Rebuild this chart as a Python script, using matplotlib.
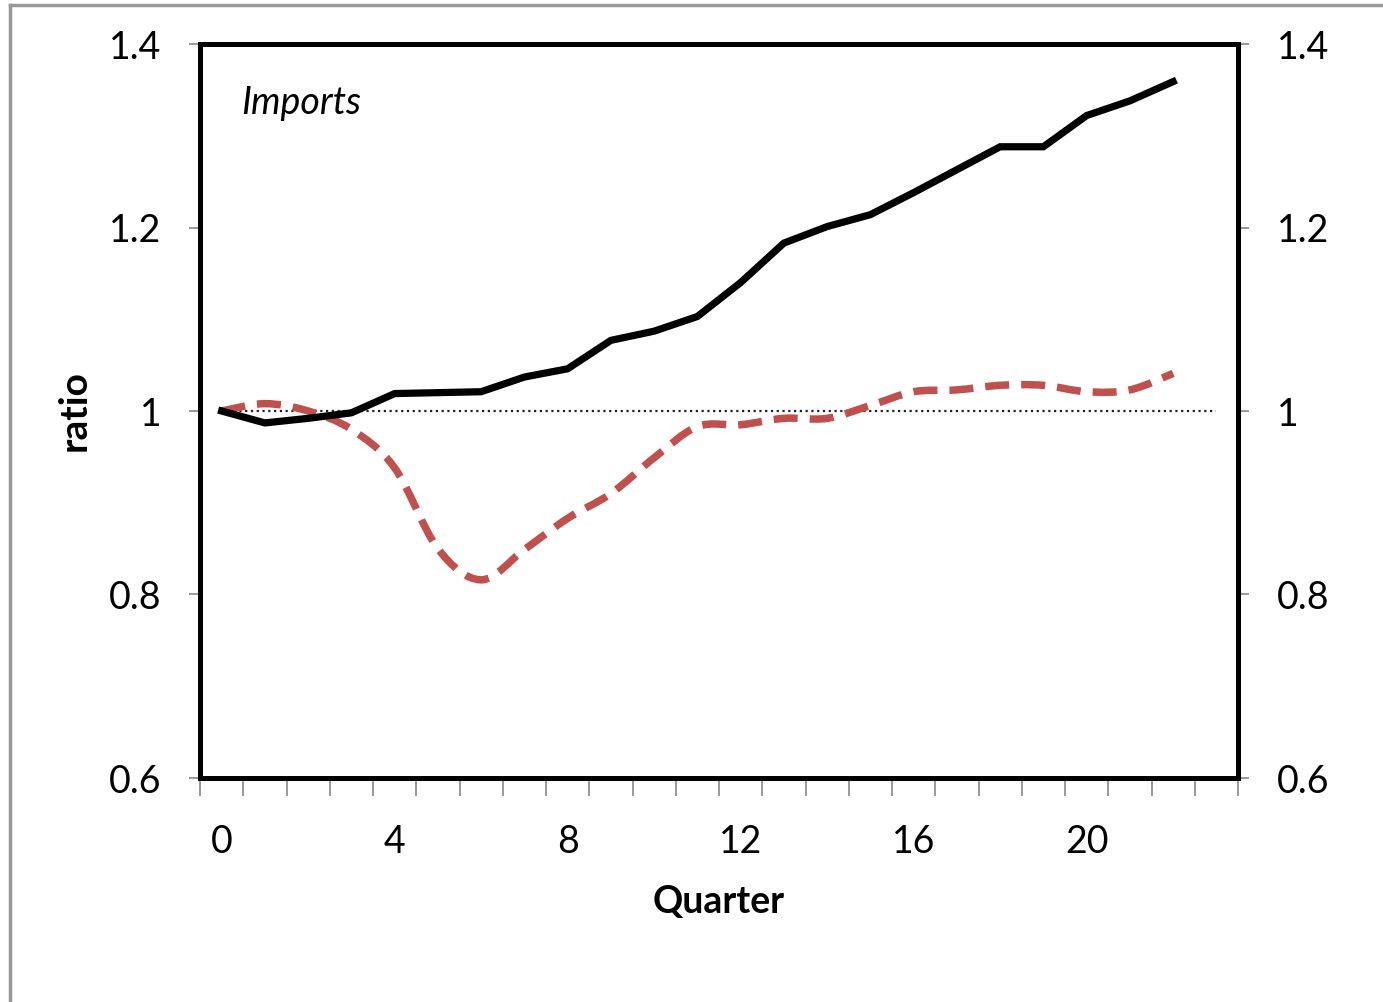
import numpy as np
import matplotlib.pyplot as plt
from matplotlib.path import Path
from matplotlib.patches import PathPatch
from matplotlib.lines import Line2D

# quarters since the shock
quarters = list(range(23))
# black solid series
imports_level = [1.000, 0.987, 0.992, 0.998, 1.019, 1.020, 1.021, 1.037, 1.046, 1.077,
                 1.087, 1.103, 1.140, 1.183, 1.201, 1.214, 1.238, 1.263, 1.288, 1.288,
                 1.322, 1.338, 1.359]
# red dashed series (smoothed in the original)
imports_ratio = [1.000, 1.008, 1.000, 0.980, 0.938, 0.850, 0.816, 0.849, 0.883, 0.910,
                 0.949, 0.983, 0.985, 0.992, 0.992, 1.006, 1.021, 1.023, 1.028, 1.028,
                 1.021, 1.023, 1.041]
# reference line at 1
ref_x = list(range(24))
ref_y = [1.0] * 24

x_labels = [0, 4, 8, 12, 16, 20]
y_ticks = [0.6, 0.8, 1.0, 1.2, 1.4]
y_labels = ["0.6", "0.8", "1", "1.2", "1.4"]

plt.rcParams["font.family"] = ["Lato", "DejaVu Sans"]

W, H = 1383, 1002
fig = plt.figure(figsize=(W / 100, H / 100), dpi=100)
ax = fig.add_axes([200 / W, 1 - 778 / H, (1238 - 200) / W, (778 - 44) / H])


def smooth_path(xs, ys):
    # Excel-like smoothed line: cubic Bezier through each point
    pts = np.column_stack([xs, ys])
    n = len(pts)
    verts = [pts[0]]
    codes = [Path.MOVETO]
    for i in range(n - 1):
        p0 = pts[max(i - 1, 0)]
        p1 = pts[i]
        p2 = pts[i + 1]
        p3 = pts[min(i + 2, n - 1)]
        c1 = p1 + (p2 - p0) / 6.0
        c2 = p2 - (p3 - p1) / 6.0
        verts += [c1, c2, p2]
        codes += [Path.CURVE4] * 3
    return Path(verts, codes)


ax.plot(ref_x, ref_y, color="#222222", lw=1.6, linestyle=(0, (1, 1.6)), zorder=2)
ax.plot(quarters, imports_level, color="black", lw=5.2, solid_joinstyle="miter", zorder=4)
ax.add_patch(PathPatch(smooth_path(quarters, imports_ratio), fill=False,
                       edgecolor="#C0504D", lw=5.4, linestyle=(0, (3.2, 1.6)), zorder=3))

ax.set_xlim(-0.5, 23.5)
ax.set_ylim(0.6, 1.4)

ax.set_xticks(x_labels)
ax.set_xticklabels([str(v) for v in x_labels])
ax.set_xticks(np.arange(-0.5, 24, 1.0), minor=True)
ax.tick_params(axis="x", which="major", length=0, pad=33, labelsize=27)
ax.tick_params(axis="x", which="minor", length=13, width=1.2, color="#888888", direction="out")

ax.set_yticks(y_ticks)
ax.set_yticklabels(y_labels)
ax.tick_params(axis="y", which="major", length=8, width=1.2, color="#888888",
               direction="out", left=True, right=True, labelleft=True, labelright=True,
               labelsize=27, pad=20)

for s in ax.spines.values():
    s.set_linewidth(3.6)
    s.set_color("black")

ax.set_xlabel("Quarter", fontsize=27, fontweight="bold", labelpad=18)
ax.set_ylabel("ratio", fontsize=28, fontweight="bold", labelpad=12)
ax.text(0.04, 0.92, "Imports", transform=ax.transAxes, fontsize=27, style="italic",
        ha="left", va="center")

# outer gray frame of the embedded chart
fig.add_artist(Line2D([10 / W, 10 / W], [0, 1 - 5 / H], color="#999999", lw=2.5))
fig.add_artist(Line2D([10 / W, 1], [1 - 5 / H, 1 - 5 / H], color="#999999", lw=2.5))

fig.savefig("out.png", dpi=100)
